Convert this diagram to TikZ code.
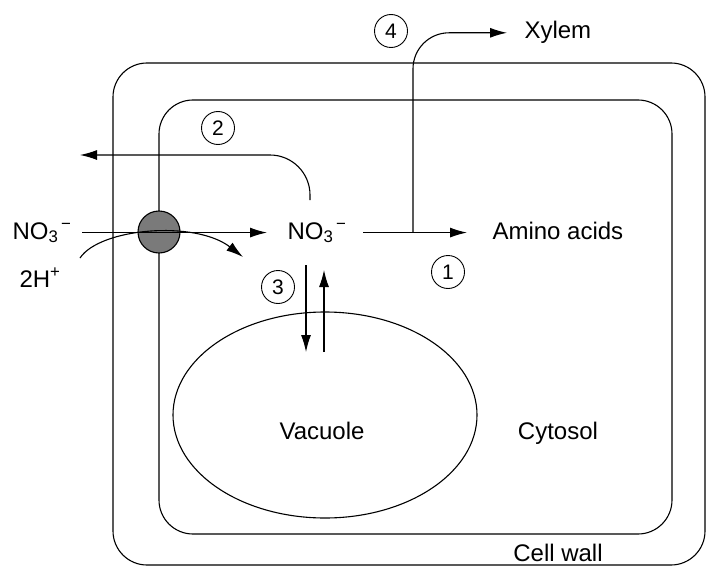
\documentclass[tikz,border=0pt]{standalone}
\usepackage{fontspec}
\setmainfont{Liberation Sans}
\usetikzlibrary{arrows.meta}
\newcommand{\nitrate}{NO\textsubscript{3}\textsuperscript{\,−}}

\begin{document}
\begin{tikzpicture}[x=1pt,y=-1pt,line width=1.1pt,
        lbl/.style={font=\fontsize{24}{28}\selectfont,inner sep=0pt},
        num/.style={draw,circle,line width=0.9pt,minimum size=33pt,inner sep=0pt,font=\fontsize{21}{24}\selectfont},
        flow/.style={-{Latex[length=17pt,width=10pt]}}]
        \useasboundingbox (0,0) rectangle (706,567);
        \draw[rounded corners=34pt](113, 63) rectangle (705, 565);
        \draw[rounded corners=34pt](159, 100) rectangle (672, 534);
        \draw(325, 415) ellipse [x radius=152pt, y radius=103pt];
        \filldraw[fill=black!52](159, 232) circle[radius=21pt];
        \node[lbl, anchor=base west] (no3out) at (12, 239) {\nitrate};
        \node[lbl, anchor=base west] (hplus) at (19, 287) {2H\textsuperscript{+}};
        \node[lbl, anchor=base west] (no3in) at (287, 239) {\nitrate};
        \node[lbl, anchor=base west] (amino) at (492, 239) {Amino acids};
        \node[lbl, anchor=base west] (xylem) at (524, 39) {Xylem};
        \node[lbl, anchor=base] (vacuole) at (322, 439) {Vacuole};
        \node[lbl, anchor=base] (cytosol) at (558, 439) {Cytosol};
        \node[lbl, anchor=base] (wall) at (558, 561) {Cell wall};
        \node[num] (n1) at (448, 272) {1};
        \node[num] (n2) at (218, 128) {2};
        \node[num] (n3) at (278, 287) {3};
        \node[num] (n4) at (391, 31) {4};
        \coordinate (branch) at (413, 232);
        \coordinate (efflux) at (310, 200);
        \coordinate (apoplast) at (80, 155);
        \coordinate (hin) at (80, 258);
        \coordinate (hout) at (243, 257);
        \coordinate (tonin) at (306, 265);
        \coordinate (vacin) at (306, 352);
        \coordinate (vacout) at (324, 352);
        \coordinate (tonout) at (324, 270);
        \draw[flow, shorten <=10pt, shorten >=20pt](no3out.east) -- (no3in.west);
        \draw[flow, shorten <=16pt, shorten >=25pt](no3in.east) -- (no3in.east -| amino.west);
        \draw[flow, rounded corners=36pt, shorten >=17pt](branch) |- (xylem.west);
        \draw[flow, rounded corners=40pt](efflux) |- (apoplast);
        \draw[flow](hin) .. controls (100, 228) and (195, 220) .. (hout);
        \draw[flow](tonin) -- (vacin);
        \draw[flow](vacout) -- (tonout);
    \end{tikzpicture}
\end{document}
